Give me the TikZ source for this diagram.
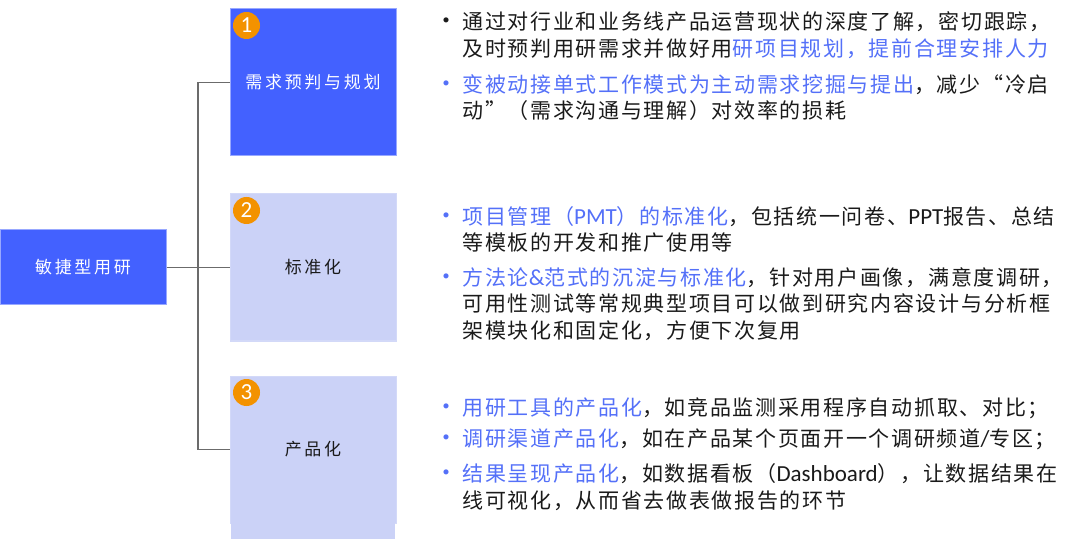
\documentclass[tikz,border=0pt]{standalone}
\usepackage{fontspec}
\usetikzlibrary{positioning}
\newfontfamily\cjkfont[LetterSpace=8]{Noto Sans CJK SC}
\newfontfamily\boxfont[LetterSpace=16]{Noto Sans CJK SC}
\newfontfamily\numfont{Carlito}
\definecolor{deepblue}{HTML}{4361FF}
\definecolor{paleblue}{HTML}{CBD2F7}
\definecolor{hiblue}{HTML}{5470F8}
\definecolor{badgeorange}{HTML}{F39200}
\definecolor{linegray}{HTML}{6B6B6B}
\definecolor{ink}{HTML}{1A1A1A}
\newcommand{\hl}[1]{\textcolor{hiblue}{#1}}
\newcommand{\lat}[1]{{\numfont\fontsize{11.5}{13.25}\selectfont #1}}
\newcommand{\dotb}[1]{\llap{\textcolor{#1}{\fontsize{12}{12}\selectfont •}\hspace{2pt}}}
\tikzset{
  darkbox/.style={fill=deepblue, draw=deepblue!55!white, line width=0.5pt, text=white,
    minimum width=83pt, minimum height=73.5pt, inner sep=0pt,
    font=\boxfont\fontsize{8.5}{10}\selectfont},
  palebox/.style={darkbox, fill=paleblue, draw=paleblue!85!white, text=ink},
  badge/.style={circle, fill=badgeorange, text=white, minimum size=13.5pt, inner sep=0pt,
    font=\numfont\fontsize{11.5}{12}\selectfont},
  wire/.style={draw=linegray, line width=0.75pt},
  % anchored at the baseline of the last line
  item/.style={align=left, inner sep=0pt, anchor=base west, text=ink,
    font=\cjkfont\fontsize{10.5}{13.25}\selectfont}
}
\begin{document}
\begin{tikzpicture}[x=0.5pt,y=-0.5pt]
  \useasboundingbox (0,0) rectangle (1080,539);

  % left root and the three stages
  \node[darkbox, minimum height=37.5pt] (root) at (83,267.5) {敏捷型用研};
  \node[darkbox] (plan) at (313,82.5) {需求预判与规划};
  \node[palebox] (std) at (313,267.5) {标准化};
  \node[palebox] (prod) at (313,449.5) {产品化};
  \fill[paleblue] (230.6,515) rectangle (395.4,539);

  \foreach \b/\n in {plan/1, std/2, prod/3}
    \node[badge] (badge\n) at ([shift={(17,17)}]\b.north west) {\n};

  % connectors
  \coordinate (trunk) at (198,0);
  \draw[wire] (root.east) -- (std.west);
  \draw[wire] (plan.west) -- (plan.west -| trunk) |- (prod.west);

  % stage 1
  \node[item] (plan1) at (462,56.5) {\dotb{ink}通过对行业和业务线产品运营现状的深度了解，密切跟踪，\\
    及时预判用研需求并做好用\hl{研项目规划，提前合理安排人力}};
  \node[item] (plan2) at (462,119) {\dotb{hiblue}\hl{变被动接单式工作模式为主动需求挖掘与提出}，减少“冷启\\
    动”（需求沟通与理解）对效率的损耗};

  % stage 2
  \node[item] (std1) at (462,251) {\dotb{hiblue}\hl{项目管理（\lat{PMT}）的标准化}，包括统一问卷、\lat{PPT}报告、总结\\
    等模板的开发和推广使用等};
  \node[item] (std2) at (462,338) {\dotb{hiblue}\hl{方法论\lat{\&}范式的沉淀与标准化}，针对用户画像，满意度调研，\\
    可用性测试等常规典型项目可以做到研究内容设计与分析框\\
    架模块化和固定化，方便下次复用};

  % stage 3
  \node[item] (prod1) at (462,415) {\dotb{hiblue}\hl{用研工具的产品化}，如竞品监测采用程序自动抓取、对比；};
  \node[item] (prod2) at (462,446) {\dotb{hiblue}\hl{调研渠道产品化}，如在产品某个页面开一个调研频道\lat{/}专区；};
  \node[item] (prod3) at (462,508) {\dotb{hiblue}\hl{结果呈现产品化}，如数据看板（\lat{Dashboard}），让数据结果在\\
    线可视化，从而省去做表做报告的环节};
\end{tikzpicture}
\end{document}
